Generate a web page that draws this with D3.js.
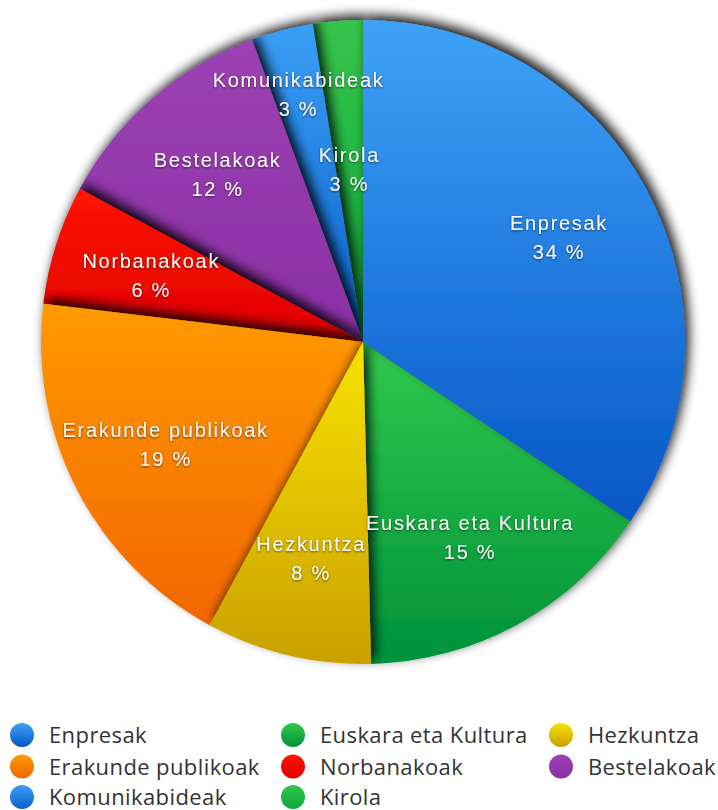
<!DOCTYPE html>
<html lang="eu">
<head>
<meta charset="utf-8">
<title>Banaketa</title>
<style>
  body { margin: 0; background: #fff; }
  svg { display: block; }
</style>
</head>
<body>
<script src="https://d3js.org/d3.v7.min.js"></script>
<svg id="chart" width="718" height="810"></svg>
<script>
// slice values (percent)
const categories = ["Enpresak", "Euskara eta Kultura", "Hezkuntza", "Erakunde publikoak",
  "Norbanakoak", "Bestelakoak", "Komunikabideak", "Kirola"];
const shares = [34.4, 15.2, 8.3, 19.0, 6.0, 11.5, 3.1, 2.5];

// light (top) / dark (bottom) colour per category
const lightColors = ["#3ea2f8", "#30c94c", "#f8e200", "#ff9a00", "#ff1400", "#9c42b4", "#3a9ef6", "#36c44c"];
const darkColors  = ["#0656c6", "#00913a", "#c9a000", "#f26600", "#e00000", "#8a2fa4", "#0a62cc", "#0aa83c"];

const width = 718, height = 810;
const cx = 363, cy = 342, R = 322;

const data = categories.map((c, i) => ({ name: c, share: shares[i], i: i }));

const svg = d3.select("#chart");
const defs = svg.append("defs");

data.forEach(d => {
  const g = defs.append("linearGradient")
    .attr("id", "grad" + d.i)
    .attr("x1", 0).attr("y1", 0).attr("x2", 0).attr("y2", 1);
  g.append("stop").attr("offset", "0%").attr("stop-color", lightColors[d.i]);
  g.append("stop").attr("offset", "100%").attr("stop-color", darkColors[d.i]);
});

// shadow each slice throws on its neighbours
const sh = defs.append("filter").attr("id", "sliceShadow")
  .attr("x", "-20%").attr("y", "-20%").attr("width", "140%").attr("height", "140%");
sh.append("feGaussianBlur").attr("in", "SourceAlpha").attr("stdDeviation", 6);
sh.append("feOffset").attr("dx", 4).attr("dy", -5).attr("result", "ob");
sh.append("feComponentTransfer").append("feFuncA").attr("type", "linear").attr("slope", 0.9);
const shm = sh.append("feMerge");
shm.append("feMergeNode");
shm.append("feMergeNode").attr("in", "SourceGraphic");

// soft shadow behind the white labels
const ts = defs.append("filter").attr("id", "textShadow")
  .attr("x", "-10%").attr("y", "-30%").attr("width", "120%").attr("height", "160%");
ts.append("feGaussianBlur").attr("in", "SourceAlpha").attr("stdDeviation", 1.2);
ts.append("feOffset").attr("dx", 0).attr("dy", 1);
ts.append("feComponentTransfer").append("feFuncA").attr("type", "linear").attr("slope", 0.6);
const tsm = ts.append("feMerge");
tsm.append("feMergeNode");
tsm.append("feMergeNode").attr("in", "SourceGraphic");

const pie = d3.pie().sort(null).value(d => d.share);
const arcs = pie(data);
const arc = d3.arc().innerRadius(0).outerRadius(R);

// upper slices first so the lower ones lay their shadow on them,
// the big first slice goes on top of everything
const order = arcs.slice(1).sort((a, b) => arc.centroid(a)[1] - arc.centroid(b)[1]);
order.push(arcs[0]);

const pieG = svg.append("g").attr("transform", `translate(${cx},${cy})`);

pieG.selectAll("path.slice")
  .data(order)
  .join("path")
  .attr("class", "slice")
  .attr("d", arc)
  .attr("fill", d => `url(#grad${d.data.i})`)
  .attr("filter", "url(#sliceShadow)");

// label radius, the two thin slices are staggered
function labelRadius(name) {
  if (name == "Komunikabideak") return R * 0.795;
  if (name == "Kirola") return R * 0.54;
  return R * 0.69;
}

const labels = pieG.selectAll("g.label")
  .data(arcs)
  .join("g")
  .attr("class", "label")
  .attr("filter", "url(#textShadow)")
  .attr("transform", d => {
    const r = labelRadius(d.data.name);
    const c = d3.arc().innerRadius(r).outerRadius(r).centroid(d);
    return `translate(${c[0]},${c[1]})`;
  });

labels.append("text")
  .attr("y", -7)
  .text(d => d.data.name);
labels.append("text")
  .attr("y", 22)
  .text(d => Math.round(d.data.share) + " %");

labels.selectAll("text")
  .attr("text-anchor", "middle")
  .style("font-family", "'Liberation Sans', Arial, sans-serif")
  .style("font-size", "20px")
  .style("letter-spacing", "1.7px")
  .style("fill", "#f6f6f6");

// legend, three columns filled row by row
const colX = [22, 293, 561];
const rowY = [735, 766.5, 797];

const legend = svg.append("g").selectAll("g")
  .data(data)
  .join("g")
  .attr("transform", d => `translate(${colX[d.i % 3]},${rowY[Math.floor(d.i / 3)]})`);

legend.append("circle")
  .attr("r", 12)
  .attr("fill", d => `url(#grad${d.i})`);

legend.append("text")
  .attr("x", 27)
  .attr("y", 8)
  .text(d => d.name)
  .style("font-family", "'Open Sans', sans-serif")
  .style("font-size", "22px")
  .style("letter-spacing", "0.4px")
  .style("fill", "#333");
</script>
</body>
</html>
